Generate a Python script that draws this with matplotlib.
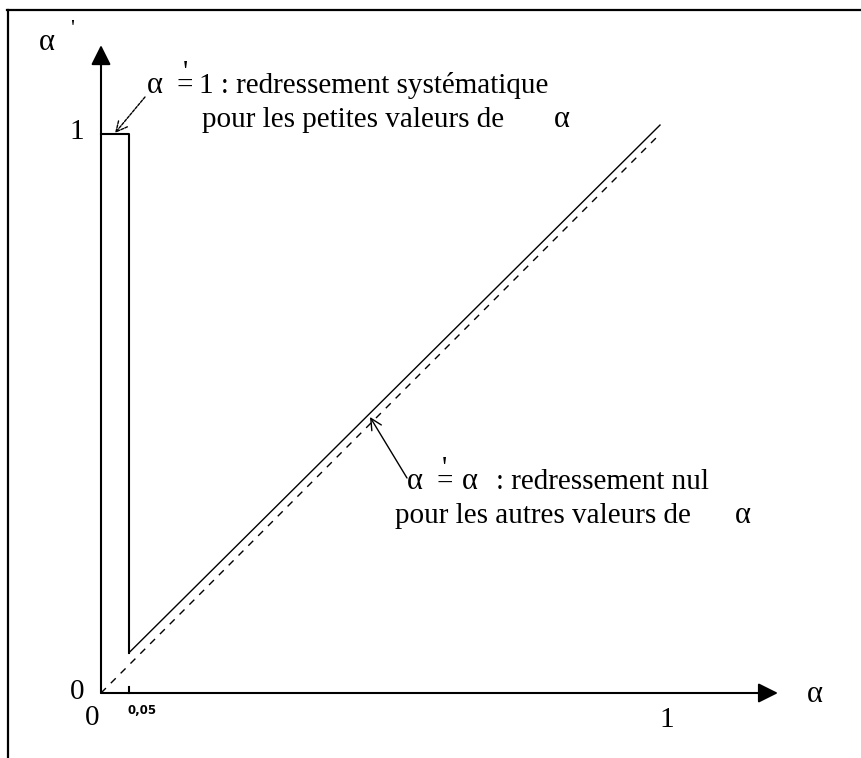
import matplotlib
matplotlib.use("Agg")
import matplotlib.pyplot as plt
from matplotlib.lines import Line2D

plt.rcParams["font.family"] = ["Liberation Serif", "DejaVu Serif"]

W, H, DPI = 861, 758, 100
OX, OY, S = 101, 693, 559   # origin in pixels, pixels per unit

# --- data ---------------------------------------------------------------
ident_x = [0.0, 1.0]          # alpha' = alpha (dashed reference)
ident_y = [0.0, 1.0]
fix_x = [0.05, 1.0]           # alpha' = alpha branch (solid, drawn just above)
fix_y = [0.072, 1.016]
rect_x = [0.0, 0.05, 0.05]    # alpha' = 1 for alpha < 0.05
rect_y = [1.0, 1.0, 0.072]
tick_x = 0.05
x_end, y_end = 1.211, 1.159   # axis arrow tips

FS = 21
FA = 22   # alpha glyphs look a touch larger


def px(x, y):
    """pixel position in the picture -> data coordinates"""
    return (x - OX) / S, (OY - y) / S


def eq_prime(x, y):
    """'=' with the prime mark sitting above it, as one text"""
    ax.text(*px(x, y), "'\n=", fontsize=FS, ha="left", va="baseline",
            multialignment="center", linespacing=0.36)


fig = plt.figure(figsize=(W / DPI, H / DPI), dpi=DPI)
ax = fig.add_axes([0, 0, 1, 1])
ax.set_xlim(-OX / S, (W - OX) / S)
ax.set_ylim(-(H - OY) / S, OY / S)
ax.axis("off")

# frame (top + left only)
fig.add_artist(Line2D([7 / W, 1], [1 - 10 / H] * 2, transform=fig.transFigure,
                      color="black", lw=1.6))
fig.add_artist(Line2D([8 / W] * 2, [0, 1 - 10 / H], transform=fig.transFigure,
                      color="black", lw=1.6))

# axes with filled arrow heads
head = dict(arrowstyle="-|>", lw=1.5, color="black", fc="black",
            mutation_scale=30, shrinkA=0, shrinkB=0)
ax.annotate("", xy=(x_end, 0), xytext=(0, 0), arrowprops=head)
ax.annotate("", xy=(0, y_end), xytext=(0, 0), arrowprops=head)
ax.plot([tick_x, tick_x], [0, 0.01], color="black", lw=1.5)

# curves
ax.plot(ident_x, ident_y, color="black", lw=1, ls=(0, (5, 5)))
ax.plot(fix_x, fix_y, color="black", lw=1)
ax.plot(rect_x, rect_y, color="black", lw=1.5)

# axis labels / ticks
ax.text(*px(47, 43), "\u03b1", fontsize=FA, ha="center", va="center")
ax.text(*px(72, 20), "'", fontsize=16, ha="center", va="top")
ax.text(*px(77, 132), "1", fontsize=FS, ha="center", va="center")
ax.text(*px(77, 692), "0", fontsize=FS, ha="center", va="center")
ax.text(*px(92, 718), "0", fontsize=FS, ha="center", va="center")
ax.text(*px(127, 710), "0,05", fontsize=8.5, fontweight="bold",
        family="DejaVu Sans", ha="left", va="center")
ax.text(*px(667, 720), "1", fontsize=FS, ha="center", va="center")
ax.text(*px(815, 695), "\u03b1", fontsize=FA, ha="center", va="center")

# annotation: alpha' = 1
ax.text(*px(147, 93), "\u03b1", fontsize=FA, ha="left", va="baseline")
eq_prime(177, 93)
ax.text(*px(199, 93), "1 : redressement syst\u00e9matique", fontsize=FS,
        ha="left", va="baseline")
ax.text(*px(202, 127), "pour les petites valeurs de", fontsize=FS,
        ha="left", va="baseline")
ax.text(*px(554, 127), "\u03b1", fontsize=FA, ha="left", va="baseline")
ax.annotate("", xy=px(115, 133), xytext=px(145, 97),
            arrowprops=dict(arrowstyle="->", lw=1, color="black", ls=(0, (2, 1)),
                            mutation_scale=20, shrinkA=0, shrinkB=0))

# annotation: alpha' = alpha
ax.text(*px(407, 489), "\u03b1", fontsize=FA, ha="left", va="baseline")
eq_prime(436, 489)
ax.text(*px(462, 489), "\u03b1", fontsize=FA, ha="left", va="baseline")
ax.text(*px(496, 489), ": redressement nul", fontsize=FS, ha="left", va="baseline")
ax.text(*px(395, 523), "pour les autres valeurs de", fontsize=FS,
        ha="left", va="baseline")
ax.text(*px(735, 523), "\u03b1", fontsize=FA, ha="left", va="baseline")
ax.annotate("", xy=px(370, 417), xytext=px(407, 478),
            arrowprops=dict(arrowstyle="->", lw=1, color="black",
                            mutation_scale=20, shrinkA=0, shrinkB=0))

fig.savefig("out.png", dpi=DPI)
